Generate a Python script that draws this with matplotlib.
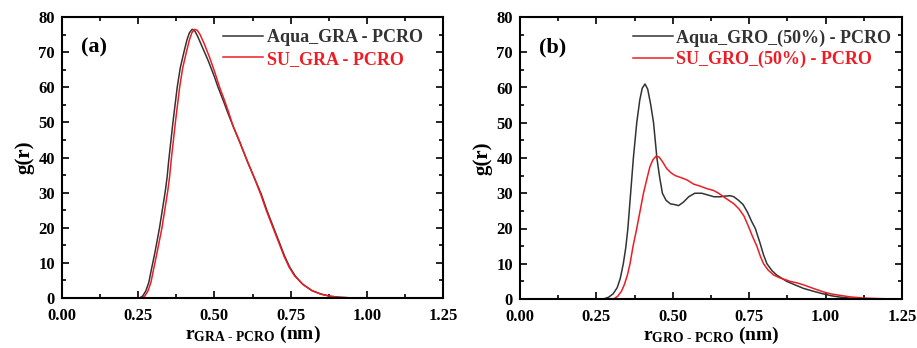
import numpy as np
import matplotlib.pyplot as plt
from matplotlib.ticker import MultipleLocator

# panel (a): GRA - PCRO
r_a_aqua = [0.0, 0.20, 0.255, 0.265, 0.275, 0.285, 0.293, 0.305, 0.32, 0.33, 0.339, 0.345, 0.35, 0.357, 0.364,
            0.371, 0.378, 0.388, 0.40, 0.41, 0.418, 0.427, 0.436, 0.445, 0.46, 0.48, 0.50, 0.512, 0.53, 0.545,
            0.561, 0.585, 0.61, 0.632, 0.654, 0.672, 0.692, 0.71, 0.73, 0.747, 0.765, 0.79, 0.82, 0.85, 0.88,
            0.91, 0.94, 0.97, 1.0, 1.25]
g_a_aqua = [0.0, 0.0, 0.0, 0.6, 2.0, 4.5, 8.0, 13.0, 20.0, 25.5, 30.5, 34.5, 39.0, 44.5, 50.0,
            55.0, 60.0, 65.5, 70.0, 73.5, 75.5, 76.5, 76.0, 74.5, 71.5, 67.5, 63.0, 60.0, 56.0, 52.5,
            49.0, 44.0, 38.5, 34.0, 29.5, 25.0, 20.5, 16.5, 12.0, 8.8, 6.3, 3.9, 2.1, 1.1, 0.5,
            0.2, 0.07, 0.02, 0.0, 0.0]

r_a_su = [0.0, 0.20, 0.262, 0.272, 0.282, 0.292, 0.30, 0.312, 0.328, 0.338, 0.347, 0.353, 0.358, 0.365, 0.372,
          0.379, 0.386, 0.396, 0.408, 0.418, 0.426, 0.435, 0.444, 0.453, 0.467, 0.485, 0.503, 0.517, 0.533, 0.547,
          0.561, 0.585, 0.61, 0.632, 0.652, 0.67, 0.69, 0.708, 0.728, 0.745, 0.763, 0.79, 0.82, 0.85, 0.88,
          0.91, 0.94, 0.97, 1.0, 1.25]
g_a_su = [0.0, 0.0, 0.0, 0.6, 2.0, 4.5, 8.0, 13.0, 20.0, 25.5, 30.5, 34.5, 39.0, 44.5, 50.0,
          55.0, 60.0, 65.5, 70.0, 73.5, 75.5, 76.5, 76.2, 75.0, 72.3, 68.3, 63.8, 60.0, 56.3, 52.8,
          49.0, 44.0, 38.5, 34.0, 29.5, 25.0, 20.5, 16.5, 12.0, 8.8, 6.3, 3.9, 2.1, 1.1, 0.5,
          0.2, 0.07, 0.02, 0.0, 0.0]

# panel (b): GRO_(50%) - PCRO
r_b_aqua = [0.0, 0.25, 0.273, 0.29, 0.305, 0.318, 0.328, 0.338, 0.346, 0.353, 0.362, 0.371, 0.382, 0.392,
            0.40, 0.409, 0.418, 0.428, 0.437, 0.448, 0.457, 0.466, 0.478, 0.492, 0.505, 0.519, 0.535,
            0.552, 0.572, 0.595, 0.615, 0.635, 0.655, 0.672, 0.688, 0.70, 0.715, 0.73, 0.745, 0.758, 0.77,
            0.785, 0.797, 0.808, 0.825, 0.84, 0.858, 0.873, 0.90, 0.928, 0.96, 0.99, 1.02, 1.05, 1.08, 1.12,
            1.17, 1.25]
g_b_aqua = [0.0, 0.0, 0.0, 0.5, 1.5, 3.2, 5.8, 10.0, 14.5, 20.0, 30.0, 40.0, 50.0, 56.5,
            59.8, 61.0, 59.5, 55.0, 50.0, 40.0, 34.5, 30.0, 28.0, 27.0, 26.8, 26.5, 27.5,
            29.0, 30.0, 30.0, 29.5, 29.0, 29.0, 29.2, 29.3, 29.0, 28.0, 26.8, 24.5, 22.0, 20.0,
            16.0, 12.5, 10.0, 8.0, 6.8, 5.8, 5.0, 4.0, 3.0, 2.2, 1.5, 0.9, 0.5, 0.25, 0.08,
            0.0, 0.0]

r_b_su = [0.0, 0.28, 0.306, 0.32, 0.332, 0.342, 0.352, 0.36, 0.37, 0.382, 0.393, 0.404, 0.415, 0.425,
          0.435, 0.445, 0.455, 0.466, 0.48, 0.494, 0.508, 0.525, 0.546, 0.568, 0.59, 0.612, 0.633, 0.65,
          0.666, 0.683, 0.70, 0.717, 0.733, 0.748, 0.762, 0.775, 0.787, 0.797, 0.812, 0.83, 0.85, 0.868,
          0.884, 0.905, 0.928, 0.96, 0.993, 1.02, 1.05, 1.08, 1.12, 1.17, 1.22, 1.25]
g_b_su = [0.0, 0.0, 0.0, 0.8, 2.2, 4.2, 7.0, 10.0, 15.0, 20.0, 25.0, 30.0, 34.0, 37.5,
          39.5, 40.5, 40.3, 39.0, 37.0, 35.8, 35.0, 34.5, 33.8, 32.6, 32.0, 31.3, 30.8, 30.0,
          29.0, 28.0, 27.0, 25.5, 23.5, 20.5, 17.5, 15.0, 12.0, 10.0, 8.2, 6.8, 6.0, 5.5,
          5.0, 4.6, 4.0, 3.0, 2.0, 1.4, 1.0, 0.6, 0.3, 0.12, 0.03, 0.0]

x_ticks = [0.00, 0.25, 0.50, 0.75, 1.00, 1.25]
y_ticks = [0, 10, 20, 30, 40, 50, 60, 70, 80]

plt.rcParams['font.family'] = 'Liberation Serif'
plt.rcParams['font.weight'] = 'bold'
plt.rcParams['axes.labelweight'] = 'bold'
plt.rcParams['mathtext.fontset'] = 'custom'
plt.rcParams['mathtext.rm'] = 'Liberation Serif:bold'
plt.rcParams['mathtext.bf'] = 'Liberation Serif:bold'
plt.rcParams['mathtext.it'] = 'Liberation Serif:bold'

BLACK = '#333333'
RED = '#ee1c24'

fig = plt.figure(figsize=(9.17, 3.48), dpi=100)
ax_a = fig.add_axes([62 / 917, 1 - 298 / 348, 381 / 917, 281 / 348])
ax_b = fig.add_axes([520 / 917, 1 - 299 / 348, 382 / 917, 282 / 348])

panels = [
    (ax_a, r_a_aqua, g_a_aqua, r_a_su, g_a_su, 'Aqua_GRA - PCRO', 'SU_GRA - PCRO', '(a)',
     r'$\mathrm{r}_{\text{GRA - PCRO}}$ (nm)', 0.975),
    (ax_b, r_b_aqua, g_b_aqua, r_b_su, g_b_su, 'Aqua_GRO_(50%) - PCRO', 'SU_GRO_(50%) - PCRO', '(b)',
     r'$\mathrm{r}_{\text{GRO - PCRO}}$ (nm)', 1.0),
]

for ax, rx1, gy1, rx2, gy2, lab1, lab2, tag, xlab, leg_x in panels:
    ax.plot(rx1, gy1, color=BLACK, lw=1.1, label=lab1)
    ax.plot(rx2, gy2, color=RED, lw=1.1, label=lab2)
    ax.set_xlim(0, 1.25)
    ax.set_ylim(0, 80)
    ax.set_xticks(x_ticks)
    ax.set_yticks(y_ticks)
    ax.set_xticklabels(['%.2f' % v for v in x_ticks])
    ax.xaxis.set_minor_locator(MultipleLocator(0.125))
    ax.yaxis.set_minor_locator(MultipleLocator(5))
    ax.tick_params(which='both', direction='in', top=True, right=True, width=1.2, labelsize=12)
    ax.tick_params(which='major', length=5)
    ax.tick_params(which='minor', length=3)
    ax.tick_params(axis='x', pad=7)
    ax.tick_params(axis='y', pad=5)
    for sp in ax.spines.values():
        sp.set_linewidth(1.5)
    ax.set_xlabel(xlab, fontsize=14, labelpad=0)
    ax.set_ylabel('g(r)', fontsize=15, labelpad=3)
    ax.text(0.05, 0.875, tag, transform=ax.transAxes, fontsize=16, fontweight='bold')
    leg = ax.legend(loc='upper right', frameon=False, fontsize=13, handlelength=2.2,
                    handletextpad=0.2, labelspacing=0.25, borderaxespad=0.2,
                    bbox_to_anchor=(leg_x, 0.995))
    for txt, line in zip(leg.get_texts(), leg.get_lines()):
        txt.set_color(line.get_color())

fig.savefig('out.png', dpi=100)
